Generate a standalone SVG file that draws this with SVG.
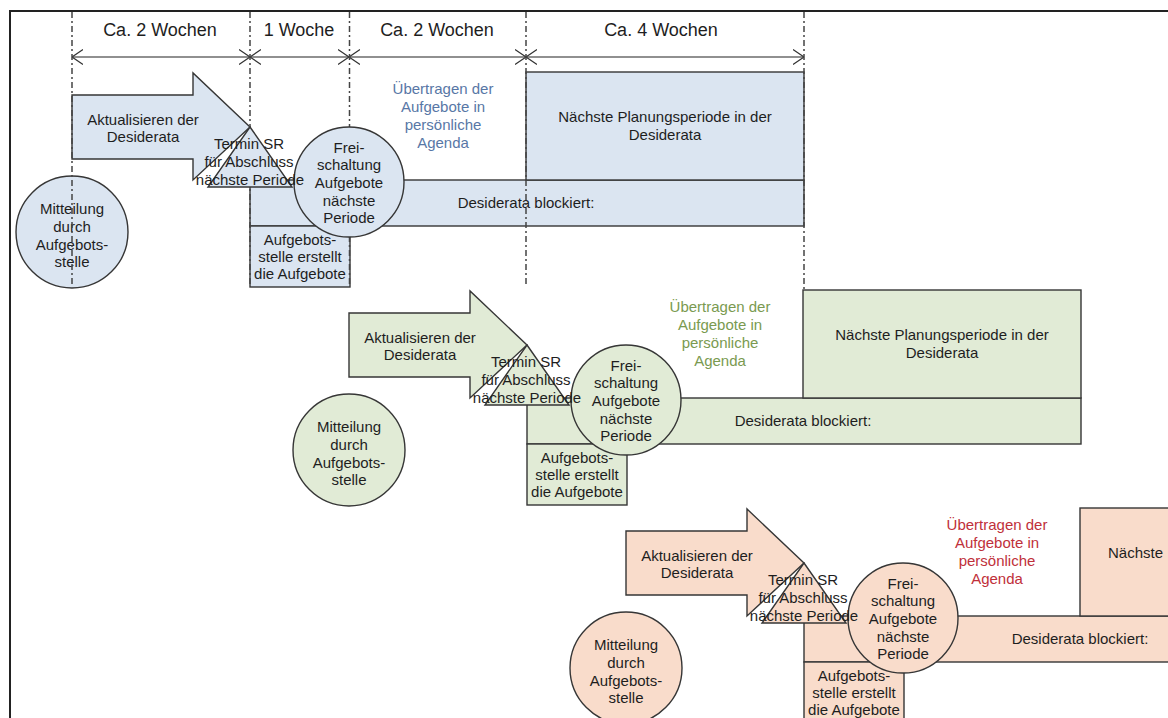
<svg xmlns="http://www.w3.org/2000/svg" width="1168" height="718" viewBox="0 0 1168 718">
<defs>
<marker id="oa" viewBox="0 0 11 16" markerWidth="11" markerHeight="16" refX="11" refY="8" orient="auto-start-reverse" markerUnits="userSpaceOnUse"><path d="M0,0.5 L11,8 L0,15.5" fill="none" stroke="#333" stroke-width="1.2"/></marker>
</defs>
<style>
text{font-family:"Liberation Sans",Arial,sans-serif;font-size:15px;fill:#1e1e1e;text-anchor:middle}
.hdr{font-size:18px}
.sh{stroke:#363636;stroke-width:1.4}
.blue .sh{fill:#dbe5f1}
.green .sh{fill:#e1ebd6}
.orange .sh{fill:#f9dccb}
.blue .ut{fill:#5877a6}
.green .ut{fill:#7a9a50}
.orange .ut{fill:#c0303a}
.dd{stroke:#444;stroke-width:1.5;stroke-dasharray:6 3 2 3;fill:none}
.tl{stroke:#222;stroke-width:1.2;fill:none}
</style>
<rect x="0" y="0" width="1168" height="718" fill="#fff"/>
<path d="M10,718 V11 H1168" stroke="#222" stroke-width="2" fill="none"/>

<g id="headers">
<text class="hdr" x="160" y="36">Ca. 2 Wochen</text>
<text class="hdr" x="299" y="36">1 Woche</text>
<text class="hdr" x="437" y="36">Ca. 2 Wochen</text>
<text class="hdr" x="661" y="36">Ca. 4 Wochen</text>
</g>

<!-- Block 1 (blue) -->
<g id="b1-bar" class="blue"><rect class="sh" x="250" y="180" width="554" height="46"/><text x="526" y="208">Desiderata blockiert:</text></g>
<g id="b1-periode" class="blue"><rect class="sh" x="526" y="72" width="278" height="108"/><text x="665" y="122">Nächste Planungsperiode in der</text><text x="665" y="140">Desiderata</text></g>
<g id="b1-aktualisieren" class="blue"><polygon class="sh" points="72,95 193,95 193,73 250,127 193,180 193,159 72,159"/><text x="143" y="125">Aktualisieren der</text><text x="143" y="142">Desiderata</text></g>
<g id="b1-mitteilung" class="blue"><circle class="sh" cx="72" cy="232" r="56"/><text x="72" y="214">Mitteilung</text><text x="72" y="232">durch</text><text x="72" y="249.5">Aufgebots-</text><text x="72" y="267">stelle</text></g>
<g id="b1-aufgebotsstelle" class="blue"><rect class="sh" x="250" y="226" width="100" height="61"/><text x="300" y="245">Aufgebots-</text><text x="300" y="262">stelle erstellt</text><text x="300" y="279">die Aufgebote</text></g>

<g id="connectors">
<line class="tl" x1="72" y1="57" x2="250" y2="57" marker-start="url(#oa)" marker-end="url(#oa)"/>
<line class="tl" x1="250" y1="57" x2="349" y2="57" marker-start="url(#oa)" marker-end="url(#oa)"/>
<line class="tl" x1="349" y1="57" x2="526" y2="57" marker-start="url(#oa)" marker-end="url(#oa)"/>
<line class="tl" x1="526" y1="57" x2="804" y2="57" marker-start="url(#oa)" marker-end="url(#oa)"/>
<line class="dd" x1="72" y1="12" x2="72" y2="287"/>
<line class="dd" x1="250" y1="12" x2="250" y2="287"/>
<line class="dd" x1="349.5" y1="12" x2="349.5" y2="287"/>
<line class="dd" x1="526" y1="12" x2="526" y2="287"/>
<line class="dd" x1="804" y1="12" x2="804" y2="290"/>
</g>

<g id="b1-freischaltung" class="blue"><circle class="sh" cx="349" cy="182" r="55"/><text x="349" y="152.5">Frei-</text><text x="349" y="170">schaltung</text><text x="349" y="188">Aufgebote</text><text x="349" y="205.5">nächste</text><text x="349" y="222.5">Periode</text></g>
<g id="b1-termin" class="blue"><polygon class="sh" points="250,127 292,187 208,187"/><text x="249" y="149">Termin SR</text><text x="249" y="167">für Abschluss</text><text x="250" y="184.5">nächste Periode</text></g>
<g id="b1-uebertragen" class="blue"><text class="ut" x="443" y="94">Übertragen der</text><text class="ut" x="443" y="112">Aufgebote in</text><text class="ut" x="443" y="130">persönliche</text><text class="ut" x="443" y="148">Agenda</text></g>

<!-- Block 2 (green) -->
<g class="green" transform="translate(277,218)">
<g id="b2-bar"><rect class="sh" x="250" y="180" width="554" height="46"/><text x="526" y="208">Desiderata blockiert:</text></g>
<g id="b2-periode"><rect class="sh" x="526" y="72" width="278" height="108"/><text x="665" y="122">Nächste Planungsperiode in der</text><text x="665" y="140">Desiderata</text></g>
<g id="b2-aktualisieren"><polygon class="sh" points="72,95 193,95 193,73 250,127 193,180 193,159 72,159"/><text x="143" y="125">Aktualisieren der</text><text x="143" y="142">Desiderata</text></g>
<g id="b2-mitteilung"><circle class="sh" cx="72" cy="232" r="56"/><text x="72" y="214">Mitteilung</text><text x="72" y="232">durch</text><text x="72" y="249.5">Aufgebots-</text><text x="72" y="267">stelle</text></g>
<g id="b2-aufgebotsstelle"><rect class="sh" x="250" y="226" width="100" height="61"/><text x="300" y="245">Aufgebots-</text><text x="300" y="262">stelle erstellt</text><text x="300" y="279">die Aufgebote</text></g>
<g id="b2-freischaltung"><circle class="sh" cx="349" cy="182" r="55"/><text x="349" y="152.5">Frei-</text><text x="349" y="170">schaltung</text><text x="349" y="188">Aufgebote</text><text x="349" y="205.5">nächste</text><text x="349" y="222.5">Periode</text></g>
<g id="b2-termin"><polygon class="sh" points="250,127 292,187 208,187"/><text x="249" y="149">Termin SR</text><text x="249" y="167">für Abschluss</text><text x="250" y="184.5">nächste Periode</text></g>
<g id="b2-uebertragen"><text class="ut" x="443" y="94">Übertragen der</text><text class="ut" x="443" y="112">Aufgebote in</text><text class="ut" x="443" y="130">persönliche</text><text class="ut" x="443" y="148">Agenda</text></g>
</g>

<!-- Block 3 (orange) -->
<g class="orange" transform="translate(554,436)">
<g id="b3-bar"><rect class="sh" x="250" y="180" width="554" height="46"/><text x="526" y="208">Desiderata blockiert:</text></g>
<g id="b3-periode"><rect class="sh" x="526" y="72" width="278" height="108"/><text x="554" y="122" style="text-anchor:start">Nächste</text></g>
<g id="b3-aktualisieren"><polygon class="sh" points="72,95 193,95 193,73 250,127 193,180 193,159 72,159"/><text x="143" y="125">Aktualisieren der</text><text x="143" y="142">Desiderata</text></g>
<g id="b3-mitteilung"><circle class="sh" cx="72" cy="232" r="56"/><text x="72" y="214">Mitteilung</text><text x="72" y="232">durch</text><text x="72" y="249.5">Aufgebots-</text><text x="72" y="267">stelle</text></g>
<g id="b3-aufgebotsstelle"><rect class="sh" x="250" y="226" width="100" height="61"/><text x="300" y="245">Aufgebots-</text><text x="300" y="262">stelle erstellt</text><text x="300" y="279">die Aufgebote</text></g>
<g id="b3-freischaltung"><circle class="sh" cx="349" cy="182" r="55"/><text x="349" y="152.5">Frei-</text><text x="349" y="170">schaltung</text><text x="349" y="188">Aufgebote</text><text x="349" y="205.5">nächste</text><text x="349" y="222.5">Periode</text></g>
<g id="b3-termin"><polygon class="sh" points="250,127 292,187 208,187"/><text x="249" y="149">Termin SR</text><text x="249" y="167">für Abschluss</text><text x="250" y="184.5">nächste Periode</text></g>
<g id="b3-uebertragen"><text class="ut" x="443" y="94">Übertragen der</text><text class="ut" x="443" y="112">Aufgebote in</text><text class="ut" x="443" y="130">persönliche</text><text class="ut" x="443" y="148">Agenda</text></g>
</g>
</svg>
